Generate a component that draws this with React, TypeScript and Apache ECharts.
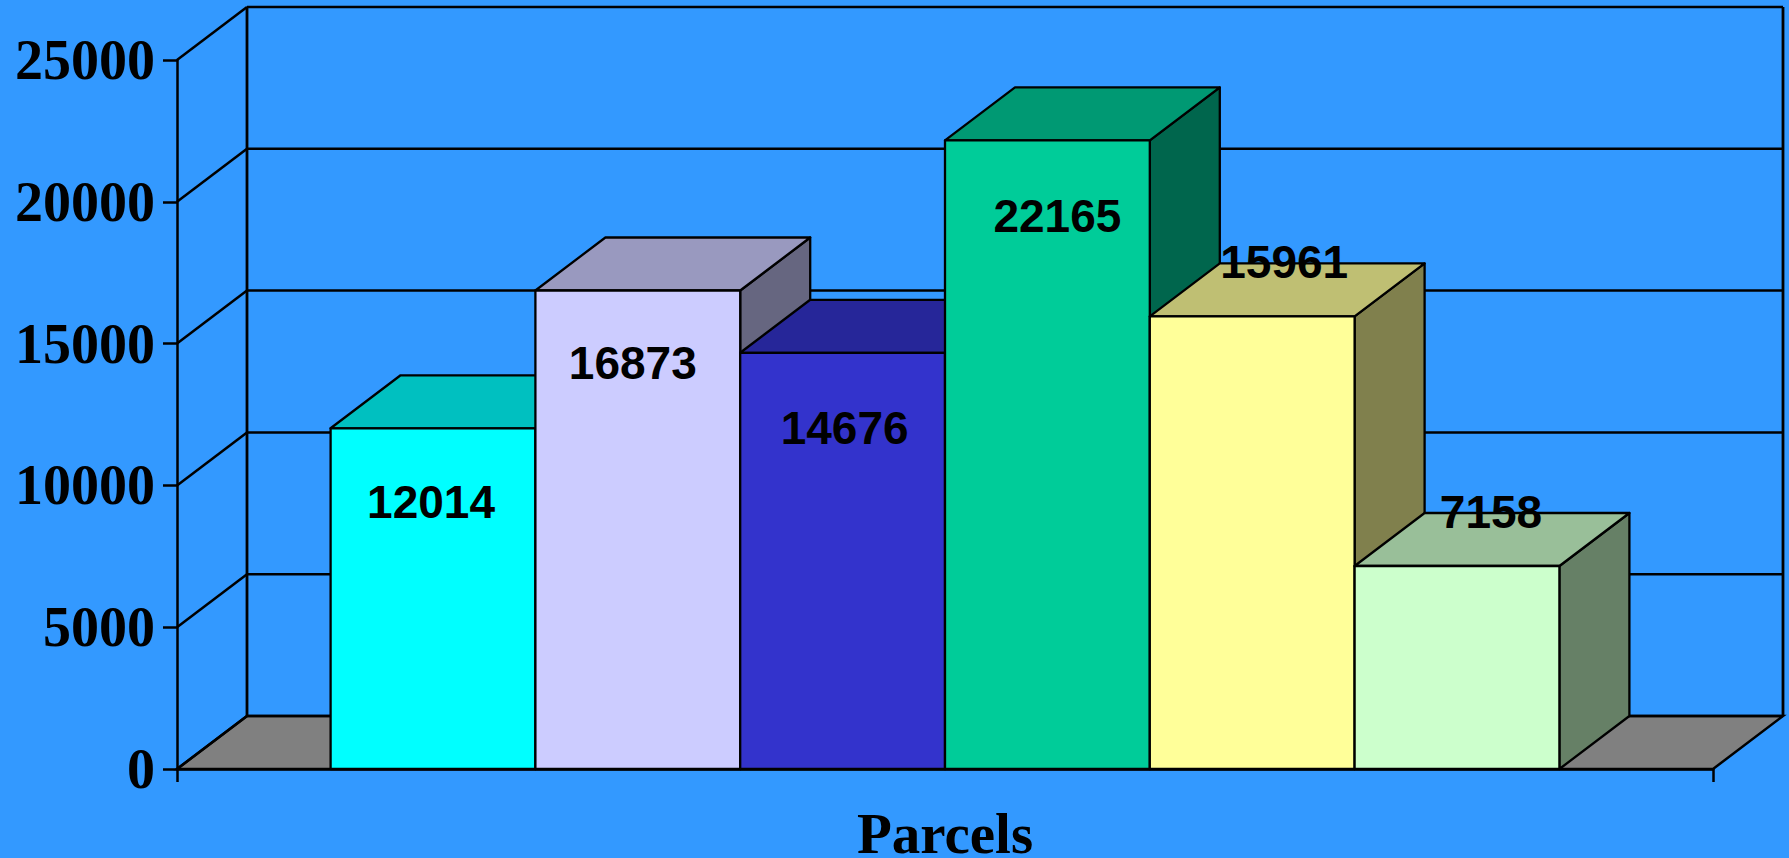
import React, { useEffect, useRef } from "react";
import * as echarts from "echarts";

// ---- data ----
const categories = ["Parcels"];
const values = [12014, 16873, 14676, 22165, 15961, 7158];
const yTicks = [0, 5000, 10000, 15000, 20000, 25000];

// ---- styles ----
const frontColors = ["#00FFFF", "#CCCCFF", "#3333CC", "#00CC99", "#FFFF99", "#CCFFCC"];
const topColors = ["#00C0C0", "#9999BF", "#262699", "#009973", "#BFBF73", "#99BF99"];
const sideColors = ["#008080", "#666680", "#1A1A66", "#00664D", "#80804D", "#668066"];
const labelDx = [-2, -5, 2, 10, 32, 34];
const labelDy = [74, 73, 75, 76, -54, -54];

const DX = 70;
const DY = 53;
const BAR_SPAN = 0.8;
const BG = "#3399FF";

export default function App() {
  const ref = useRef<HTMLDivElement>(null);

  useEffect(() => {
    if (!ref.current) return;
    const chart = echarts.init(ref.current, undefined, { renderer: "svg" });
    const yMax = yTicks[yTicks.length - 1];
    const n = values.length;

    const barGeom = (params: any, api: any) => {
      const i = params.dataIndex;
      const v = api.value(1);
      const [cx, yTop] = api.coord([api.value(0), v]);
      const yBase = api.coord([api.value(0), 0])[1];
      const band = api.size([1, 0])[0];
      const w = (band * BAR_SPAN) / n;
      const x0 = cx - (band * BAR_SPAN) / 2 + i * w;
      const x1 = x0 + w;
      return { i, x0, x1, yTop, yBase, w };
    };

    const option: any = {
      animation: false,
      backgroundColor: BG,
      grid: { left: 177, right: 76, top: 60, bottom: 89, containLabel: false, outerBoundsMode: "none" },
      xAxis: {
        type: "category",
        data: categories,
        boundaryGap: true,
        axisLine: { show: true, lineStyle: { color: "#000", width: 2.5 } },
        axisTick: { show: true, length: 13, alignWithLabel: false, lineStyle: { color: "#000", width: 2.5 } },
        axisLabel: {
          color: "#000",
          fontFamily: "'Liberation Serif', 'Times New Roman', serif",
          fontWeight: "bold",
          fontSize: 57,
          lineHeight: 48,
          margin: 40,
        },
        splitLine: { show: false },
      },
      yAxis: {
        type: "value",
        min: 0,
        max: yMax,
        interval: 5000,
        axisLine: { show: true, lineStyle: { color: "#000", width: 2.5 } },
        axisTick: { show: true, length: 14, lineStyle: { color: "#000", width: 2.5 } },
        axisLabel: {
          color: "#000",
          fontFamily: "'Liberation Serif', 'Times New Roman', serif",
          fontWeight: "bold",
          fontSize: 56,
          margin: 22,
          formatter: (v: number) => String(v),
        },
        splitLine: { show: false },
      },
      series: [
        {
          name: "frame",
          type: "custom",
          z: 1,
          clip: false,
          silent: true,
          encode: { x: 0, y: 1 },
          data: yTicks.map((t) => [0, t]),
          renderItem: (params: any, api: any) => {
            const cs = params.coordSys;
            const xL = cs.x;
            const xR = cs.x + cs.width;
            const y = api.coord([0, api.value(1)])[1];
            const line = { stroke: "#000", lineWidth: 2.5 };
            const children: any[] = [];
            if (params.dataIndex === 0) {
              const yT = api.coord([0, yMax])[1];
              children.push({
                type: "polygon",
                shape: { points: [[xL, y], [xR, y], [xR + DX, y - DY], [xL + DX, y - DY]] },
                style: { fill: "#808080", stroke: "#000", lineWidth: 2.5 },
              });
              children.push({
                type: "line",
                shape: { x1: xL + DX, y1: y - DY, x2: xL + DX, y2: yT - DY },
                style: { stroke: "#000", lineWidth: 2.8 },
              });
              children.push({
                type: "line",
                shape: { x1: xR + DX, y1: y - DY, x2: xR + DX, y2: yT - DY },
                style: { stroke: "#000", lineWidth: 2.8 },
              });
            }
            children.push({
              type: "line",
              shape: { x1: xL, y1: y, x2: xL + DX, y2: y - DY },
              style: line,
            });
            children.push({
              type: "line",
              shape: { x1: xL + DX, y1: y - DY, x2: xR + DX, y2: y - DY },
              style: line,
            });
            return { type: "group", children };
          },
        },
        {
          name: "bars",
          type: "custom",
          z: 2,
          clip: false,
          silent: true,
          encode: { x: 0, y: 1 },
          data: values.map((v) => [0, v]),
          renderItem: (params: any, api: any) => {
            const { i, x0, x1, yTop, yBase, w } = barGeom(params, api);
            const edge = { stroke: "#000", lineWidth: 2.3, lineJoin: "round" };
            return {
              type: "group",
              children: [
                {
                  type: "polygon",
                  shape: { points: [[x1, yBase], [x1 + DX, yBase - DY], [x1 + DX, yTop - DY], [x1, yTop]] },
                  style: { fill: sideColors[i], ...edge },
                },
                {
                  type: "polygon",
                  shape: { points: [[x0, yTop], [x1, yTop], [x1 + DX, yTop - DY], [x0 + DX, yTop - DY]] },
                  style: { fill: topColors[i], ...edge },
                },
                {
                  type: "rect",
                  shape: { x: x0, y: yTop, width: w, height: yBase - yTop },
                  style: { fill: frontColors[i], ...edge },
                },
              ],
            };
          },
        },
        {
          name: "labels",
          type: "custom",
          z: 3,
          clip: false,
          silent: true,
          encode: { x: 0, y: 1 },
          data: values.map((v) => [0, v]),
          renderItem: (params: any, api: any) => {
            const { i, x0, w, yTop } = barGeom(params, api);
            return {
              type: "text",
              x: x0 + w / 2 + labelDx[i],
              y: yTop + labelDy[i],
              style: {
                text: String(values[i]),
                fill: "#000",
                font: "bold 46px 'Liberation Sans', Arial, sans-serif",
                align: "center",
                verticalAlign: "middle",
                textAlign: "center",
                textVerticalAlign: "middle",
              },
            };
          },
        },
      ],
    };

    chart.setOption(option);
    return () => chart.dispose();
  }, []);

  return (
    <div
      ref={ref}
      style={{ position: "fixed", left: 0, top: 0, width: 1789, height: 858 }}
    />
  );
}
